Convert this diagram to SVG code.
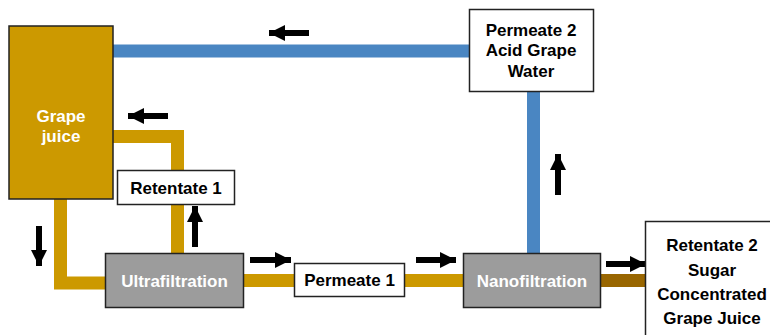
<svg xmlns="http://www.w3.org/2000/svg" width="770" height="335" viewBox="0 0 770 335">
<style>
.pipe{fill:none;stroke-linejoin:miter;stroke-linecap:butt}
.gold{stroke:#CC9900;stroke-width:13}
.blue{stroke:#4A86C2;stroke-width:13}
.brown{stroke:#996600;stroke-width:13}
.arr{stroke:#000;stroke-width:6;fill:none;marker-end:url(#ah)}
.box{stroke:#222;stroke-width:1.5}
.white{fill:#fff}
.grey{fill:#9C9C9C}
.juice{fill:#CC9900}
text{font-family:"Comic Sans MS","Liberation Sans",sans-serif;font-weight:bold;font-size:17px;text-anchor:middle}
.lt{fill:#fff}
.dk{fill:#000}
</style>
<defs>
<marker id="ah" markerUnits="userSpaceOnUse" markerWidth="18" markerHeight="18" refX="16" refY="8" orient="auto">
<path d="M0,0 L16,8 L0,16 Z" fill="#000"/>
</marker>
</defs>
<g id="connectors">
<path class="pipe blue" d="M113,51 H470"/>
<path class="pipe blue" d="M533.5,92 V254"/>
<path class="pipe gold" d="M60.5,199 V283 H106"/>
<path class="pipe gold" d="M113,136.5 H177.5 V171"/>
<path class="pipe gold" d="M177.5,205 V254"/>
<path class="pipe gold" d="M243,280.5 H295"/>
<path class="pipe gold" d="M405,280.5 H464"/>
<path class="pipe brown" d="M601,280.5 H646"/>
<path class="arr" d="M309,33 H269"/>
<path class="arr" d="M168,116 H128"/>
<path class="arr" d="M195,247 V206"/>
<path class="arr" d="M558,195 V154"/>
<path class="arr" d="M39,226 V266"/>
<path class="arr" d="M250,260 H291"/>
<path class="arr" d="M416,260 H456"/>
<path class="arr" d="M606,264 H646"/>
</g>
<g id="grape-juice">
<rect class="box juice" x="9" y="26" width="104" height="173"/>
<text class="lt" x="61" y="122">Grape</text>
<text class="lt" x="61" y="142">juice</text>
</g>
<g id="retentate-1">
<rect class="box white" x="117.5" y="170.5" width="117" height="34"/>
<text class="dk" x="176" y="194">Retentate 1</text>
</g>
<g id="ultrafiltration">
<rect class="box grey" x="105.5" y="253.5" width="138" height="54"/>
<text class="lt" x="174.5" y="287">Ultrafiltration</text>
</g>
<g id="permeate-1">
<rect class="box white" x="294.5" y="263.5" width="110" height="33"/>
<text class="dk" x="349.5" y="286">Permeate 1</text>
</g>
<g id="nanofiltration">
<rect class="box grey" x="463.5" y="253.5" width="137" height="54"/>
<text class="lt" x="532" y="287">Nanofiltration</text>
</g>
<g id="permeate-2">
<rect class="box white" x="469.5" y="9.5" width="124" height="82"/>
<text class="dk" x="531" y="36">Permeate 2</text>
<text class="dk" x="531" y="56">Acid Grape</text>
<text class="dk" x="531" y="77">Water</text>
</g>
<g id="retentate-2">
<rect class="box white" x="645.5" y="221.5" width="130" height="120"/>
<text class="dk" x="712" y="251">Retentate 2</text>
<text class="dk" x="712" y="276">Sugar</text>
<text class="dk" x="712" y="300">Concentrated</text>
<text class="dk" x="712" y="324">Grape Juice</text>
</g>
</svg>
